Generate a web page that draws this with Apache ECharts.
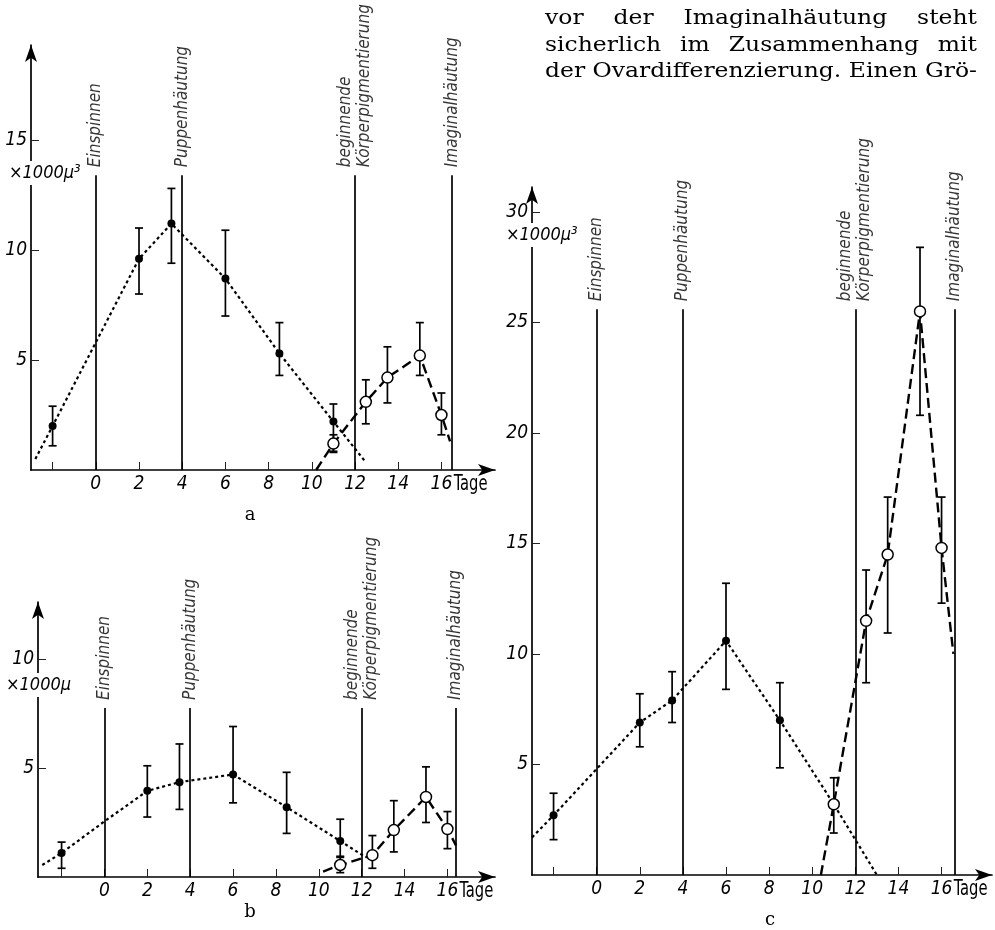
<!DOCTYPE html>
<html>
<head>
<meta charset="utf-8">
<script src="https://cdn.jsdelivr.net/npm/echarts@6/dist/echarts.min.js"></script>
<style>
html,body{margin:0;padding:0;background:#fff;}
#chart{width:995px;height:930px;}
</style>
</head>
<body>
<div id="chart"></div>
<script>
// ---------- data ----------
const xTickDays = [-2, 0, 2, 4, 6, 8, 10, 12, 14, 16];
const xLabelDays = [0, 2, 4, 6, 8, 10, 12, 14, 16];
const xUnitDay = 17.35;          // where the unit "Tage" sits along the axis
const xUnitName = 'Tage';
const eventNames = ['Einspinnen', 'Puppenhäutung', 'beginnende\nKörperpigmentierung', 'Imaginalhäutung'];

// Panel a
const aYTicks = [5, 10, 15];
const aEventDays = [0, 4, 12, 16.5];
const aEventTop = 13.4;
const aDays = [-2, 2, 3.5, 6, 8.5, 11];
const aVals = [2.0, 9.6, 11.2, 8.7, 5.3, 2.2];
const aLow = [1.1, 8.0, 9.4, 7.0, 4.3, 0.8];
const aHigh = [2.9, 11.0, 12.8, 10.9, 6.7, 3.0];
const aLineDays = [-2.8, -2, 2, 3.5, 6, 8.5, 11, 12.5];
const aLineVals = [0.5, 2.0, 9.6, 11.2, 8.7, 5.3, 2.2, 0.35];
const aOpenDays = [11, 12.5, 13.5, 15, 16];
const aOpenVals = [1.2, 3.1, 4.2, 5.2, 2.5];
const aOpenLow = [0.85, 2.1, 3.05, 4.3, 1.6];
const aOpenHigh = [1.6, 4.1, 5.6, 6.7, 3.5];
const aOpenLineDays = [10.2, 11, 12.5, 13.5, 15, 16, 16.4];
const aOpenLineVals = [0, 1.2, 3.1, 4.2, 5.2, 2.5, 1.3];

// Panel b
const bYTicks = [5, 10];
const bEventDays = [0, 4, 12, 16.4];
const bEventTop = 7.75;
const bDays = [-2, 2, 3.5, 6, 8.5, 11];
const bVals = [1.1, 3.95, 4.35, 4.7, 3.2, 1.65];
const bLow = [0.4, 2.75, 3.1, 3.4, 2.0, 0.9];
const bHigh = [1.6, 5.1, 6.1, 6.9, 4.8, 2.65];
const bLineDays = [-2.9, -2, 0, 2, 3.5, 6, 8.5, 11, 12.2];
const bLineVals = [0.55, 1.1, 2.55, 3.95, 4.35, 4.7, 3.2, 1.65, 0.9];
const bOpenDays = [11, 12.5, 13.5, 15, 16];
const bOpenVals = [0.55, 1.0, 2.15, 3.67, 2.2];
const bOpenLow = [0.2, 0.4, 1.15, 2.5, 1.3];
const bOpenHigh = [0.95, 1.9, 3.5, 5.05, 3.0];
const bOpenLineDays = [10.2, 11, 12.5, 13.5, 15, 16, 16.4];
const bOpenLineVals = [0.25, 0.55, 1.0, 2.15, 3.67, 2.2, 1.45];

// Panel c
const cYTicks = [5, 10, 15, 20, 25, 30];
const cEventDays = [0, 4, 12, 16.6];
const cEventTop = 25.6;
const cDays = [-2, 2, 3.5, 6, 8.5];
const cVals = [2.7, 6.9, 7.9, 10.6, 7.0];
const cLow = [1.6, 5.8, 6.9, 8.4, 4.85];
const cHigh = [3.7, 8.2, 9.2, 13.2, 8.7];
const cLineDays = [-3, -2, 2, 3.5, 6, 8.5, 11, 13];
const cLineVals = [1.7, 2.7, 6.9, 7.9, 10.6, 7.0, 3.2, 0];
const cOpenDays = [11, 12.5, 13.5, 15, 16];
const cOpenVals = [3.2, 11.5, 14.5, 25.5, 14.8];
const cOpenLow = [1.9, 8.7, 10.95, 20.8, 12.3];
const cOpenHigh = [4.4, 13.8, 17.1, 28.4, 17.1];
const cOpenLineDays = [10.4, 11, 12.5, 13.5, 15, 16, 16.55];
const cOpenLineVals = [0, 3.2, 11.5, 14.5, 25.5, 14.8, 10.0];

// paragraph text (top right)
const paraLines = [
  ['vor', 'der', 'Imaginalhäutung', 'steht'],
  ['sicherlich', 'im', 'Zusammenhang', 'mit'],
  ['der', 'Ovardifferenzierung.', 'Einen', 'Grö-']
];

// ---------- layout / styles ----------
const FF = "'Liberation Sans Narrow','DejaVu Sans Condensed','Liberation Sans',sans-serif";
const SERIF = "'DejaVu Serif','Liberation Serif',serif";
const zip = (xs, ys) => xs.map((x, i) => [x, ys[i]]);
const zip3 = (xs, ls, hs) => xs.map((x, i) => [x, ls[i], hs[i]]);

const panels = [
  {grid: {left: 31, top: 45, width: 464, height: 425}, xmin: -3, xmax: 18.48, ymax: 19.32, yTicks: aYTicks,
   ev: aEventDays, evTop: aEventTop, days: aDays, vals: aVals, low: aLow, high: aHigh,
   ld: aLineDays, lv: aLineVals, od: aOpenDays, ov: aOpenVals, ol: aOpenLow, oh: aOpenHigh,
   old: aOpenLineDays, olv: aOpenLineVals},
  {grid: {left: 38, top: 602, width: 457, height: 275}, xmin: -3.1, xmax: 18.22, ymax: 12.61, yTicks: bYTicks,
   ev: bEventDays, evTop: bEventTop, days: bDays, vals: bVals, low: bLow, high: bHigh,
   ld: bLineDays, lv: bLineVals, od: bOpenDays, ov: bOpenVals, ol: bOpenLow, oh: bOpenHigh,
   old: bOpenLineDays, olv: bOpenLineVals},
  {grid: {left: 532, top: 187, width: 460, height: 688}, xmin: -3, xmax: 18.34, ymax: 31.13, yTicks: cYTicks,
   ev: cEventDays, evTop: cEventTop, days: cDays, vals: cVals, low: cLow, high: cHigh,
   ld: cLineDays, lv: cLineVals, od: cOpenDays, ov: cOpenVals, ol: cOpenLow, oh: cOpenHigh,
   old: cOpenLineDays, olv: cOpenLineVals}
];

const grids = [], xAxes = [], yAxes = [], series = [];

function errRender(params, api) {
  const x = api.value(0), lo = api.value(1), hi = api.value(2);
  const p1 = api.coord([x, lo]), p2 = api.coord([x, hi]);
  const cap = 4, st = {stroke: '#000', lineWidth: 1.7};
  return {type: 'group', children: [
    {type: 'line', shape: {x1: p1[0], y1: p1[1], x2: p2[0], y2: p2[1]}, style: st},
    {type: 'line', shape: {x1: p1[0] - cap, y1: p1[1], x2: p1[0] + cap, y2: p1[1]}, style: st},
    {type: 'line', shape: {x1: p2[0] - cap, y1: p2[1], x2: p2[0] + cap, y2: p2[1]}, style: st}
  ]};
}

panels.forEach((p, i) => {
  grids.push(Object.assign({containLabel: false}, p.grid));
  xAxes.push({
    type: 'value', gridIndex: i, min: p.xmin, max: p.xmax,
    axisLine: {show: true, onZero: false, symbol: ['none', 'arrow'], symbolSize: [9, 17],
      lineStyle: {color: '#000', width: 1.7}},
    axisTick: {show: true, inside: true, length: 8, customValues: xTickDays, lineStyle: {color: '#222', width: 1}},
    axisLabel: {show: true, customValues: xLabelDays,
      fontStyle: 'italic', fontSize: 19, color: '#000', margin: 5, fontFamily: FF},
    splitLine: {show: false}
  });
  yAxes.push({
    type: 'value', gridIndex: i, min: 0, max: p.ymax,
    axisLine: {show: true, onZero: false, symbol: ['none', 'arrow'], symbolSize: [9, 17],
      lineStyle: {color: '#000', width: 1.7}},
    axisTick: {show: true, inside: true, length: 8, customValues: p.yTicks, lineStyle: {color: '#222', width: 1}},
    axisLabel: {show: true, customValues: p.yTicks, fontStyle: 'italic', fontSize: 19, color: '#000',
      margin: 4, fontFamily: FF},
    splitLine: {show: false}
  });
  // event lines + labels
  series.push({
    type: 'scatter', xAxisIndex: i, yAxisIndex: i, symbolSize: 0, silent: true, z: 1,
    data: p.ev.map((d, k) => ({value: [d, p.evTop], name: eventNames[k]})),
    label: {show: true, formatter: '{b}', rotate: 90, position: 'top', distance: 8, align: 'left',
      verticalAlign: 'middle', fontStyle: 'italic', fontSize: 17, lineHeight: 19, color: '#000', fontFamily: FF},
    markLine: {silent: true, symbol: ['none', 'none'], label: {show: false},
      lineStyle: {color: '#000', width: 1.7, type: 'solid'},
      data: p.ev.map(d => [{coord: [d, 0]}, {coord: [d, p.evTop]}])}
  });
  // trend lines
  series.push({type: 'line', xAxisIndex: i, yAxisIndex: i, showSymbol: false, silent: true, z: 2,
    data: zip(p.ld, p.lv), lineStyle: {color: '#000', width: 2.2, type: [3, 3]}});
  series.push({type: 'line', xAxisIndex: i, yAxisIndex: i, showSymbol: false, silent: true, z: 2,
    data: zip(p.old, p.olv), lineStyle: {color: '#000', width: 2.4, type: [10, 5]}});
  // error bars
  series.push({type: 'custom', xAxisIndex: i, yAxisIndex: i, silent: true, z: 3,
    renderItem: errRender, encode: {x: 0, y: [1, 2]}, data: zip3(p.days, p.low, p.high)});
  series.push({type: 'custom', xAxisIndex: i, yAxisIndex: i, silent: true, z: 3,
    renderItem: errRender, encode: {x: 0, y: [1, 2]}, data: zip3(p.od, p.ol, p.oh)});
  // points
  series.push({type: 'scatter', xAxisIndex: i, yAxisIndex: i, silent: true, z: 4, symbol: 'circle', symbolSize: 8,
    itemStyle: {color: '#000', opacity: 1}, data: zip(p.days, p.vals)});
  series.push({type: 'scatter', xAxisIndex: i, yAxisIndex: i, silent: true, z: 4, symbol: 'circle', symbolSize: 11,
    itemStyle: {color: '#fff', borderColor: '#000', borderWidth: 1.5, opacity: 1}, data: zip(p.od, p.ov)});
});

// text annotations
const graphics = [];
const unitLabels = [
  {text: '×1000μ³', x: 8, y: 173},
  {text: '×1000μ', x: 5, y: 685},
  {text: '×1000μ³', x: 505, y: 235}
];
unitLabels.forEach(u => graphics.push({type: 'text', x: u.x, y: u.y, z: 10,
  style: {text: u.text, font: 'italic 18px ' + FF, fill: '#000', textVerticalAlign: 'middle',
    backgroundColor: '#fff', padding: [3, 1, 3, 1]}}));
[['a', 250, 515], ['b', 250, 912], ['c', 770, 920]].forEach(t => graphics.push({type: 'text', x: t[1], y: t[2],
  style: {text: t[0], font: '18px ' + SERIF, fill: '#000', textAlign: 'center', textVerticalAlign: 'middle'}}));

// paragraph: justified between the column margins
const colLeft = 545, colRight = 977;
const lineY = [18.5, 45.5, 71.5];
const paraFont = '21px ' + SERIF;
const mctx = document.createElement('canvas').getContext('2d');
mctx.font = paraFont;
const lastLineWidth = mctx.measureText(paraLines[2].join(' ')).width;
const sx = (colRight - colLeft) / lastLineWidth;
paraLines.forEach((ws, li) => {
  const widths = ws.map(w => mctx.measureText(w).width * sx);
  const total = widths.reduce((s, v) => s + v, 0);
  const gap = (colRight - colLeft - total) / (ws.length - 1);
  let x = colLeft;
  ws.forEach((w, wi) => {
    graphics.push({type: 'text', x: x, y: lineY[li], scaleX: sx,
      style: {text: w, font: paraFont, fill: '#000', textVerticalAlign: 'middle'}});
    x += widths[wi] + gap;
  });
});

const chart = echarts.init(document.getElementById('chart'), null, {renderer: 'canvas'});
chart.setOption({
  animation: false,
  backgroundColor: '#fff',
  grid: grids, xAxis: xAxes, yAxis: yAxes, series: series
});
// unit "Tage" placed through each panel's own axis scale (condensed upright face)
panels.forEach((p, i) => {
  const pt = chart.convertToPixel({xAxisIndex: i, yAxisIndex: i}, [xUnitDay, 0]);
  graphics.push({type: 'text', x: pt[0], y: pt[1] + 4, z: 10, scaleX: 0.78,
    style: {text: xUnitName, font: '21px ' + FF, fill: '#000', textAlign: 'center', textVerticalAlign: 'top'}});
});
chart.setOption({graphic: {elements: graphics}});
</script>
</body>
</html>
